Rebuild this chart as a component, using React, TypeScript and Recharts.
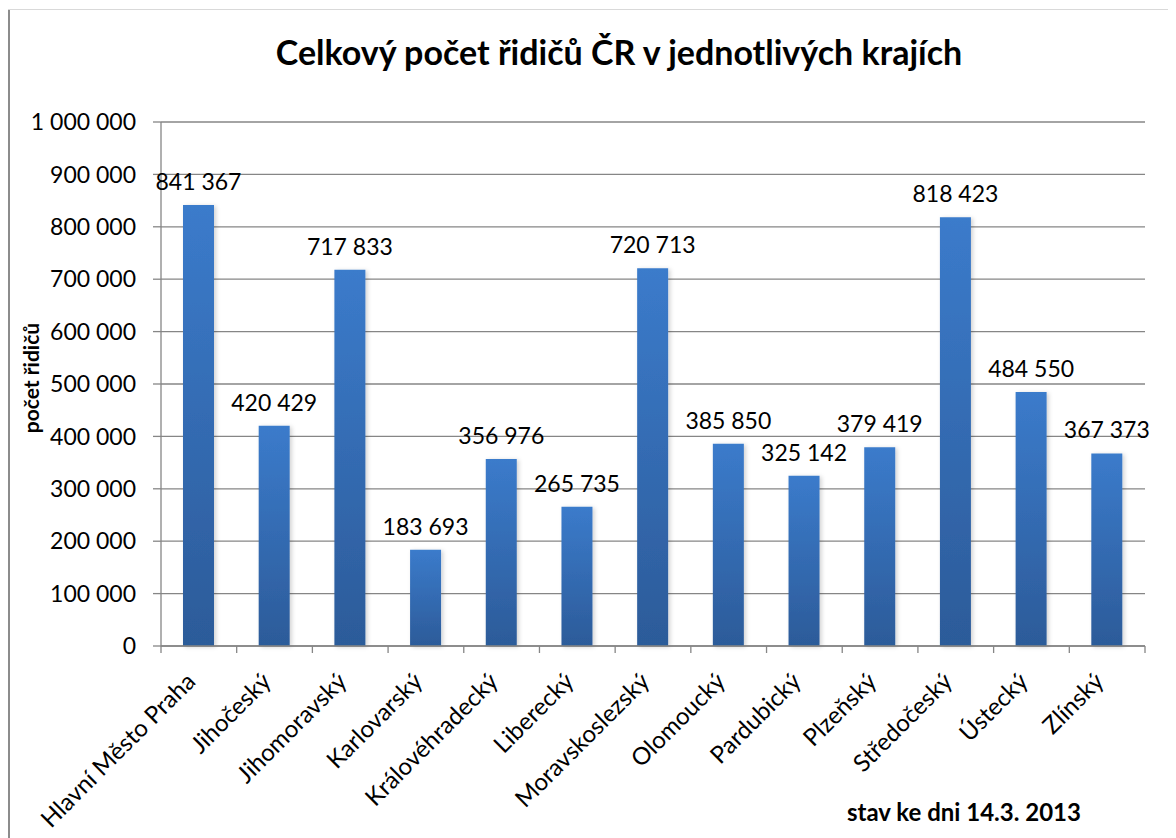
import React from 'react';
import { BarChart, Bar, XAxis, YAxis, CartesianGrid, LabelList } from 'recharts';

const categories = [
  'Hlavní Město Praha',
  'Jihočeský',
  'Jihomoravský',
  'Karlovarský',
  'Královéhradecký',
  'Liberecký',
  'Moravskoslezský',
  'Olomoucký',
  'Pardubický',
  'Plzeňský',
  'Středočeský',
  'Ústecký',
  'Zlínský',
];

const drivers = [841367, 420429, 717833, 183693, 356976, 265735, 720713, 385850, 325142, 379419, 818423, 484550, 367373];

const yTicks = [0, 100000, 200000, 300000, 400000, 500000, 600000, 700000, 800000, 900000, 1000000];

const titleText = 'Celkový počet řidičů ČR v jednotlivých krajích';
const yAxisTitle = 'počet řidičů';
const footnote = 'stav ke dni 14.3. 2013';

const data = categories.map((name, i) => ({ name, value: drivers[i] }));

const W = 1168;
const H = 830;
const M = { top: 114, right: 31, left: 8, bottom: 42 };
const Y_W = 145;
const PLOT_LEFT = M.left + Y_W;
const PLOT_W = W - M.right - PLOT_LEFT;
const STEP = PLOT_W / categories.length;

const FONT = 'Lato, "Open Sans", "DejaVu Sans", sans-serif';
const GRID = '#868686';

const fmt = (v: number) => String(v).replace(/\B(?=(\d{3})+(?!\d))/g, '\u00a0');

const XTick = (props: any) => {
  const { x, y, payload, index } = props;
  const last = index === categories.length - 1;
  return (
    <g>
      <line x1={x - STEP / 2} x2={x - STEP / 2} y1={y} y2={y + 7} stroke={GRID} strokeWidth={1.3} />
      {last && <line x1={x + STEP / 2} x2={x + STEP / 2} y1={y} y2={y + 7} stroke={GRID} strokeWidth={1.3} />}
      <text
        transform={`translate(${x - 2},${y + 37}) rotate(-45)`}
        textAnchor="end"
        fontFamily={FONT}
        fontSize={24}
        fill="#000"
      >
        {payload.value}
      </text>
    </g>
  );
};

export default function App() {
  return (
    <div style={{ position: 'relative', width: W, height: H, background: '#fff' }}>
      <div style={{ position: 'absolute', left: 0, top: 1, bottom: 0, width: 2, background: '#8c8c8c' }} />
      <div style={{ position: 'absolute', left: 0, top: 1, right: -8, height: 1, background: '#d9d9d9' }} />
      <BarChart width={W} height={H} data={data} margin={M}>
        <defs>
          <linearGradient id="barGrad" x1="0" y1="0" x2="0" y2="1">
            <stop offset="0%" stopColor="#3B7BCB" />
            <stop offset="100%" stopColor="#2C5B99" />
          </linearGradient>
          <filter id="barShadow" x="-20%" y="-5%" width="150%" height="110%">
            <feDropShadow dx="2" dy="1" stdDeviation="2" floodColor="#000" floodOpacity="0.18" />
          </filter>
        </defs>
        <CartesianGrid vertical={false} stroke={GRID} strokeWidth={1.3} />
        <XAxis
          dataKey="name"
          interval={0}
          height={150}
          tickSize={0}
          tickMargin={0}
          tickLine={false}
          axisLine={{ stroke: GRID, strokeWidth: 1.3 }}
          tick={<XTick />}
        />
        <YAxis
          width={Y_W}
          domain={[0, 1000000]}
          ticks={yTicks}
          interval={0}
          tickFormatter={fmt}
          tickSize={8}
          tickMargin={17}
          tickLine={{ stroke: GRID, strokeWidth: 1.3 }}
          axisLine={{ stroke: GRID, strokeWidth: 1.3 }}
          tick={{ fill: '#000', fontSize: 23, fontFamily: FONT }}
        />
        <Bar dataKey="value" fill="url(#barGrad)" barSize={31} isAnimationActive={false} filter="url(#barShadow)">
          <LabelList
            dataKey="value"
            position="top"
            offset={15}
            formatter={(v: any) => fmt(Number(v))}
            fill="#000"
            fontSize={23}
            fontFamily={FONT}
          />
        </Bar>
      </BarChart>
      <svg width={W} height={H} style={{ position: 'absolute', left: 0, top: 0, pointerEvents: 'none' }}>
        <text x={611} y={57} textAnchor="middle" fontFamily={FONT} fontWeight="bold" fontSize={34} fill="#000">
          {titleText}
        </text>
        <text
          transform={`translate(31,370) rotate(-90)`}
          textAnchor="middle"
          fontFamily={FONT}
          fontWeight="bold"
          fontSize={21}
          fill="#000"
        >
          {yAxisTitle}
        </text>
        <text x={839} y={813} fontFamily={FONT} fontWeight="bold" fontSize={24} fill="#000">
          {footnote}
        </text>
      </svg>
    </div>
  );
}
